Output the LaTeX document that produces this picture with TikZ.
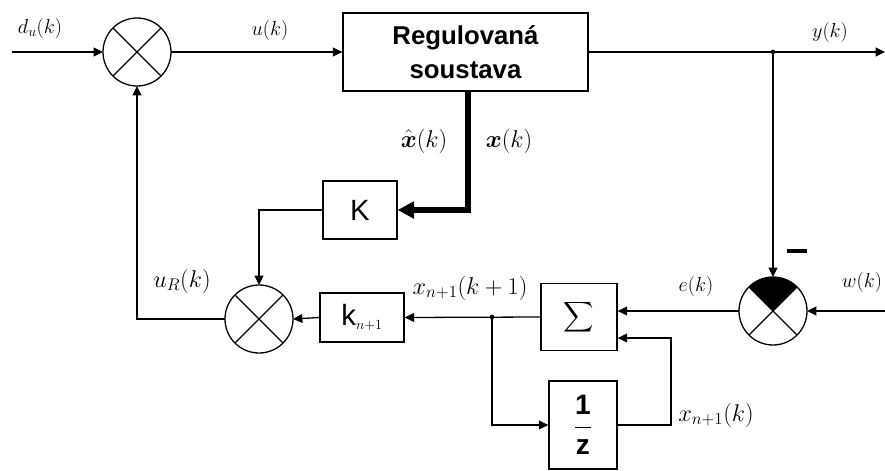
\documentclass[tikz,border=0pt]{standalone}
\usepackage{amsmath,amssymb}
\usepackage{fontspec}
\setmainfont{Liberation Serif}
\setsansfont{Liberation Sans}
\usepackage{tikz}
\usetikzlibrary{arrows.meta,positioning,calc}

\begin{document}
\begin{tikzpicture}[x=0.03cm,y=-0.03cm,line width=1.1pt,
  >={Triangle[length=8pt,width=7.5pt]},
  block/.style={rectangle,draw,inner sep=0pt,align=center,font=\sffamily},
  junct/.style={circle,draw,minimum size=2.04cm,inner sep=0pt,outer sep=0pt},
  lbl/.style={font=\fontsize{18}{20}\selectfont},
  biglbl/.style={font=\fontsize{20}{22}\selectfont}]
\useasboundingbox (0,0) rectangle (885,471);
\node[junct] (sumin) at (137,52) {};
\node[block,minimum width=7.35cm,minimum height=2.34cm,
      font=\sffamily\bfseries\fontsize{22}{29}\selectfont] (plant) at (465.5,52) {Regulovaná\\soustava};
\node[block,minimum width=2.22cm,minimum height=1.74cm,font=\sffamily\fontsize{25}{27}\selectfont] (gain) at (360,210) {K};
\node[junct] (sumfb) at (259,319) {};
\node[block,minimum width=2.52cm,minimum height=1.47cm,font=\sffamily\fontsize{25}{27}\selectfont] (gainn) at (362,317.5) {k$_{\scriptscriptstyle n+1}$};
\node[block,minimum width=2.28cm,minimum height=2.01cm,font=\fontsize{18}{20}\selectfont] (sigma) at (579,317) {$\displaystyle\sum$};
\node[block,minimum width=2.04cm,minimum height=2.64cm,font=\sffamily\bfseries\fontsize{24}{26}\selectfont] (delay) at (583,425) {$\dfrac{\text{1}}{\text{z}}$};
\node[junct] (cmp) at (773,311) {};
\foreach \n in {sumin,sumfb,cmp}
  \draw (\n.45) -- (\n.225) (\n.135) -- (\n.315);
\begin{scope}[x=1cm,y=1cm]
\fill (cmp.center) -- (cmp.45) arc[start angle=45,end angle=135,radius=1.02cm] -- cycle;
\end{scope}
\coordinate (din) at (12,52);
\coordinate (yout) at (885,52);
\coordinate (ybr) at (773,52);
\coordinate (win) at (885,311);
\coordinate (xbr) at (492,317);
\coordinate (fb) at (671,338);
\draw[->] (din) -- (sumin.west);
\draw[->] (sumin.east) -- (plant.west);
\draw[->] (plant.east) -- (yout);
\fill (ybr) circle (0.07cm);
\draw[->] (ybr) -- (cmp.north);
\draw[->] (win) -- (cmp.east);
\draw[->] (cmp.west) -- (cmp.west -| sigma.east);
\draw[->] (sigma.west) -- (gainn.east);
\fill (xbr) circle (0.07cm);
\draw[->] (xbr) |- (delay.west);
\draw[->] (delay.east) -| (fb) -- (fb -| sigma.east);
\draw[->] (gainn.west) -- (sumfb.east);
\draw[->] (gain.west) -| (sumfb.north);
\draw[->] (sumfb.west) -| (sumin.south);
\draw[line width=5pt,-{Triangle[length=14pt,width=14pt]}] ($(plant.south)+(2.5,0)$) |- (gain.east);
\node[lbl] (ldu) at (40,28) {$d_u(k)$};
\node[lbl] (lu) at (270,30) {$u(k)$};
\node[lbl] (ly) at (830,32) {$y(k)$};
\node[biglbl] (lxh) at (424,141) {$\hat{\boldsymbol{x}}(k)$};
\node[biglbl] (lx) at (509,141) {$\boldsymbol{x}(k)$};
\node[biglbl] (lur) at (182,281) {$u_{R}(k)$};
\node[biglbl] (lxk1) at (470,288) {$x_{n+1}(k+1)$};
\node[lbl] (le) at (696,286) {$e(k)$};
\node[lbl] (lw) at (862,282) {$w(k)$};
\node[biglbl] (lxk) at (716,415) {$x_{n+1}(k)$};
\node (minus) at (797,251) {\rule{0.6cm}{0.1cm}};
\end{tikzpicture}
\end{document}
